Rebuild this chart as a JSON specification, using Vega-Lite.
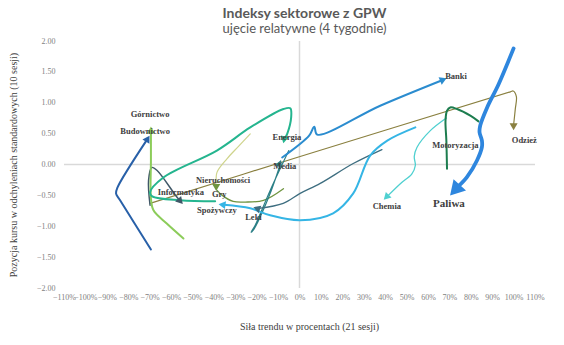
{
  "$schema": "https://vega.github.io/schema/vega-lite/v6.json",
  "width": 471,
  "height": 247,
  "autosize": "none",
  "padding": {"left": 64, "top": 41, "right": 29, "bottom": 57},
  "background": "white",
  "title": {
    "text": "Indeksy sektorowe z GPW",
    "subtitle": "ujęcie relatywne (4 tygodnie)",
    "font": "Lato", "fontSize": 14, "fontWeight": "bold", "color": "#595959",
    "subtitleFont": "Lato", "subtitleFontSize": 13, "subtitleColor": "#595959",
    "anchor": "middle", "offset": 1, "subtitlePadding": 2, "dx": 5
  },
  "config": {
    "view": {"stroke": null},
    "axis": {
      "grid": false, "domain": false, "ticks": false,
      "labelFont": "Liberation Serif", "labelFontSize": 8, "labelColor": "#7f7f7f",
      "titleFont": "Liberation Serif", "titleFontSize": 10, "titleColor": "#404040", "titleFontWeight": "normal"
    }
  },
  "datasets": {
    "zero": [
      {"x": 0, "y": -2, "y2": 2},
      {"x": -1.1, "x2": 1.1, "y": 0}
    ],
    "lines": [
      {"s": "Odzież", "o": 1, "x": -0.698, "y": -0.63},
      {"s": "Odzież", "o": 2, "x": 0.003, "y": 0.13},
      {"s": "Odzież", "o": 3, "x": 0.985, "y": 1.177},
      {"s": "Odzież", "o": 4, "x": 0.998, "y": 1.19},
      {"s": "Odzież", "o": 5, "x": 1.013, "y": 1.1},
      {"s": "Odzież", "o": 6, "x": 1.008, "y": 0.9},
      {"s": "Odzież", "o": 7, "x": 1.0, "y": 0.64},

      {"s": "Nieruchomości", "o": 1, "x": -0.23, "y": 0.495},
      {"s": "Nieruchomości", "o": 2, "x": -0.286, "y": 0.29},
      {"s": "Nieruchomości", "o": 3, "x": -0.339, "y": 0.092},
      {"s": "Nieruchomości", "o": 4, "x": -0.385, "y": -0.124},
      {"s": "Nieruchomości", "o": 5, "x": -0.389, "y": -0.29},

      {"s": "Gry", "o": 1, "x": -0.075, "y": -0.392},
      {"s": "Gry", "o": 2, "x": -0.168, "y": -0.581},
      {"s": "Gry", "o": 3, "x": -0.254, "y": -0.608},
      {"s": "Gry", "o": 4, "x": -0.31, "y": -0.597},
      {"s": "Gry", "o": 5, "x": -0.361, "y": -0.5},
      {"s": "Gry", "o": 6, "x": -0.385, "y": -0.419},

      {"s": "Chemia", "o": 1, "x": 0.686, "y": 0.753},
      {"s": "Chemia", "o": 2, "x": 0.611, "y": 0.548},
      {"s": "Chemia", "o": 3, "x": 0.549, "y": 0.279},
      {"s": "Chemia", "o": 4, "x": 0.536, "y": 0.129},
      {"s": "Chemia", "o": 5, "x": 0.541, "y": -0.016},
      {"s": "Chemia", "o": 6, "x": 0.525, "y": -0.15},
      {"s": "Chemia", "o": 7, "x": 0.471, "y": -0.311},
      {"s": "Chemia", "o": 8, "x": 0.41, "y": -0.516},

      {"s": "Media", "o": 1, "x": -0.05, "y": 0.226},
      {"s": "Media", "o": 2, "x": -0.137, "y": -0.419},
      {"s": "Media", "o": 3, "x": -0.207, "y": -0.984},
      {"s": "Media", "o": 4, "x": -0.226, "y": -1.097},
      {"s": "Media", "o": 5, "x": -0.216, "y": -1.065},
      {"s": "Media", "o": 6, "x": -0.146, "y": -0.548},
      {"s": "Media", "o": 7, "x": -0.09, "y": 0.0},

      {"s": "Leki", "o": 1, "x": 0.385, "y": 0.242},
      {"s": "Leki", "o": 2, "x": 0.251, "y": 0.016},
      {"s": "Leki", "o": 3, "x": 0.097, "y": -0.306},
      {"s": "Leki", "o": 4, "x": 0.003, "y": -0.468},
      {"s": "Leki", "o": 5, "x": -0.076, "y": -0.629},
      {"s": "Leki", "o": 6, "x": -0.19, "y": -0.71},

      {"s": "Informatyka", "o": 1, "x": -0.698, "y": -0.66},
      {"s": "Informatyka", "o": 2, "x": -0.705, "y": -0.258},
      {"s": "Informatyka", "o": 3, "x": -0.69, "y": -0.048},
      {"s": "Informatyka", "o": 4, "x": -0.665, "y": -0.097},
      {"s": "Informatyka", "o": 5, "x": -0.573, "y": -0.527},
      {"s": "Informatyka", "o": 6, "x": -0.556, "y": -0.59},

      {"s": "Górnictwo", "o": 1, "x": -0.542, "y": -1.198},
      {"s": "Górnictwo", "o": 2, "x": -0.62, "y": -0.956},
      {"s": "Górnictwo", "o": 3, "x": -0.682, "y": -0.742},
      {"s": "Górnictwo", "o": 4, "x": -0.694, "y": -0.548},
      {"s": "Górnictwo", "o": 5, "x": -0.694, "y": 0.065},
      {"s": "Górnictwo", "o": 6, "x": -0.694, "y": 0.56},

      {"s": "Budownictwo", "o": 1, "x": -0.694, "y": -1.376},
      {"s": "Budownictwo", "o": 2, "x": -0.838, "y": -0.58},
      {"s": "Budownictwo", "o": 3, "x": -0.857, "y": -0.468},
      {"s": "Budownictwo", "o": 4, "x": -0.85, "y": -0.371},
      {"s": "Budownictwo", "o": 5, "x": -0.709, "y": 0.419},

      {"s": "Spożywczy", "o": 1, "x": 0.541, "y": 0.602},
      {"s": "Spożywczy", "o": 2, "x": 0.41, "y": 0.387},
      {"s": "Spożywczy", "o": 3, "x": 0.33, "y": 0.145},
      {"s": "Spożywczy", "o": 4, "x": 0.251, "y": -0.468},
      {"s": "Spożywczy", "o": 5, "x": 0.157, "y": -0.79},
      {"s": "Spożywczy", "o": 6, "x": 0.003, "y": -0.903},
      {"s": "Spożywczy", "o": 7, "x": -0.137, "y": -0.823},
      {"s": "Spożywczy", "o": 8, "x": -0.23, "y": -0.71},
      {"s": "Spożywczy", "o": 9, "x": -0.352, "y": -0.653},

      {"s": "Energia", "o": 1, "x": -0.394, "y": -0.597},
      {"s": "Energia", "o": 2, "x": -0.557, "y": -0.58},
      {"s": "Energia", "o": 3, "x": -0.688, "y": -0.516},
      {"s": "Energia", "o": 4, "x": -0.698, "y": -0.452},
      {"s": "Energia", "o": 5, "x": -0.636, "y": -0.21},
      {"s": "Energia", "o": 6, "x": -0.386, "y": 0.226},
      {"s": "Energia", "o": 7, "x": -0.23, "y": 0.6},
      {"s": "Energia", "o": 8, "x": -0.075, "y": 0.898},
      {"s": "Energia", "o": 9, "x": -0.043, "y": 0.911},
      {"s": "Energia", "o": 10, "x": -0.039, "y": 0.763},
      {"s": "Energia", "o": 11, "x": -0.057, "y": 0.5},
      {"s": "Energia", "o": 12, "x": -0.07, "y": 0.41},

      {"s": "Banki", "o": 1, "x": -0.081, "y": 0.113},
      {"s": "Banki", "o": 2, "x": 0.045, "y": 0.468},
      {"s": "Banki", "o": 3, "x": 0.069, "y": 0.613},
      {"s": "Banki", "o": 4, "x": 0.083, "y": 0.484},
      {"s": "Banki", "o": 5, "x": 0.377, "y": 0.952},
      {"s": "Banki", "o": 6, "x": 0.672, "y": 1.373},

      {"s": "Motoryzacja", "o": 1, "x": 0.689, "y": -0.069},
      {"s": "Motoryzacja", "o": 2, "x": 0.686, "y": 0.387},
      {"s": "Motoryzacja", "o": 3, "x": 0.682, "y": 0.71},
      {"s": "Motoryzacja", "o": 4, "x": 0.689, "y": 0.871},
      {"s": "Motoryzacja", "o": 5, "x": 0.704, "y": 0.924},
      {"s": "Motoryzacja", "o": 6, "x": 0.736, "y": 0.898},
      {"s": "Motoryzacja", "o": 7, "x": 0.798, "y": 0.79},
      {"s": "Motoryzacja", "o": 8, "x": 0.836, "y": 0.698},

      {"s": "Paliwa", "o": 1, "x": 1.0, "y": 1.88},
      {"s": "Paliwa", "o": 2, "x": 0.93, "y": 1.3},
      {"s": "Paliwa", "o": 3, "x": 0.876, "y": 0.92},
      {"s": "Paliwa", "o": 4, "x": 0.844, "y": 0.63},
      {"s": "Paliwa", "o": 5, "x": 0.841, "y": 0.52},
      {"s": "Paliwa", "o": 6, "x": 0.852, "y": 0.39},
      {"s": "Paliwa", "o": 7, "x": 0.852, "y": 0.28},
      {"s": "Paliwa", "o": 8, "x": 0.829, "y": 0.065},
      {"s": "Paliwa", "o": 9, "x": 0.782, "y": -0.205},
      {"s": "Paliwa", "o": 10, "x": 0.74, "y": -0.36}
    ],
    "arrows": [
      {"s": "Odzież", "x": 1.0, "y": 0.613},
      {"s": "Gry", "x": -0.389, "y": -0.371},
      {"s": "Chemia", "x": 0.405, "y": -0.53},
      {"s": "Media", "x": -0.092, "y": 0.02},
      {"s": "Leki", "x": -0.2, "y": -0.71},
      {"s": "Informatyka", "x": -0.556, "y": -0.597},
      {"s": "Górnictwo", "x": -0.694, "y": 0.56},
      {"s": "Budownictwo", "x": -0.709, "y": 0.419},
      {"s": "Spożywczy", "x": -0.362, "y": -0.65},
      {"s": "Energia", "x": -0.072, "y": 0.4},
      {"s": "Banki", "x": 0.672, "y": 1.373},
      {"s": "Paliwa", "x": 0.726, "y": -0.416}
    ],
    "labels": [
      {"s": "Banki", "x": 0.731, "y": 1.435},
      {"s": "Odzież", "x": 1.05, "y": 0.403},
      {"s": "Motoryzacja", "x": 0.728, "y": 0.323},
      {"s": "Chemia", "x": 0.408, "y": -0.672},
      {"s": "Paliwa", "x": 0.698, "y": -0.645},
      {"s": "Energia", "x": -0.059, "y": 0.452},
      {"s": "Media", "x": -0.069, "y": -0.032},
      {"s": "Górnictwo", "x": -0.698, "y": 0.823},
      {"s": "Budownictwo", "x": -0.721, "y": 0.548},
      {"s": "Informatyka", "x": -0.554, "y": -0.447},
      {"s": "Nieruchomości", "x": -0.357, "y": -0.258},
      {"s": "Gry", "x": -0.375, "y": -0.484},
      {"s": "Spożywczy", "x": -0.386, "y": -0.731},
      {"s": "Leki", "x": -0.215, "y": -0.85}
    ]
  },
  "encoding": {
    "x": {
      "field": "x", "type": "quantitative",
      "scale": {"domain": [-1.1, 1.1], "nice": false, "zero": false},
      "axis": {
        "values": [-1.1, -1, -0.9, -0.8, -0.7, -0.6, -0.5, -0.4, -0.3, -0.2, -0.1, 0, 0.1, 0.2, 0.3, 0.4, 0.5, 0.6, 0.7, 0.8, 0.9, 1, 1.1],
        "format": ".0%", "labelPadding": 5, "titlePadding": 20, "labelFlush": false, "labelOverlap": false,
        "titleX": 245,
        "title": "Siła trendu w procentach (21 sesji)"
      }
    },
    "y": {
      "field": "y", "type": "quantitative",
      "scale": {"domain": [-2, 2], "nice": false, "zero": false},
      "axis": {
        "values": [-2, -1.5, -1, -0.5, 0, 0.5, 1, 1.5, 2],
        "format": ".2f", "labelPadding": 9, "titlePadding": 18, "labelFlush": false,
        "title": "Pozycja kursu w odchyleniach standardowych (10 sesji)"
      }
    }
  },
  "layer": [
    {
      "data": {"name": "zero"},
      "mark": {"type": "rule", "color": "#d9d9d9", "strokeWidth": 1.5},
      "encoding": {"x2": {"field": "x2"}, "y2": {"field": "y2"}}
    },
    {
      "data": {"name": "lines"},
      "mark": {"type": "line", "interpolate": "catmull-rom", "strokeCap": "round", "strokeJoin": "round"},
      "encoding": {
        "order": {"field": "o", "type": "quantitative"},
        "color": {
          "field": "s", "type": "nominal", "legend": null,
          "scale": {
            "domain": ["Odzież", "Nieruchomości", "Gry", "Chemia", "Media", "Leki", "Informatyka", "Górnictwo", "Budownictwo", "Spożywczy", "Energia", "Banki", "Motoryzacja", "Paliwa"],
            "range": ["#8a8040", "#cfd48c", "#6f9440", "#4fd0d0", "#2b7f86", "#3e6e80", "#405868", "#8ccc5a", "#2860a8", "#35b5e5", "#25b58f", "#2b8ccf", "#1d7d4f", "#2e86de"]
          }
        },
        "strokeWidth": {
          "field": "s", "type": "nominal", "legend": null,
          "scale": {
            "type": "ordinal",
            "domain": ["Odzież", "Nieruchomości", "Gry", "Chemia", "Media", "Leki", "Informatyka", "Górnictwo", "Budownictwo", "Spożywczy", "Energia", "Banki", "Motoryzacja", "Paliwa"],
            "range": [1.2, 1.2, 1.3, 1.3, 1.2, 1.3, 1.5, 2, 2, 2, 2, 2, 2, 3.8]
          }
        }
      }
    },
    {
      "data": {"name": "arrows"},
      "mark": {"type": "point", "shape": "triangle-up", "filled": true, "opacity": 1},
      "encoding": {
        "color": {"field": "s", "type": "nominal", "legend": null},
        "angle": {
          "field": "s", "type": "nominal", "legend": null,
          "scale": {
            "type": "ordinal",
            "domain": ["Odzież", "Gry", "Chemia", "Media", "Leki", "Informatyka", "Górnictwo", "Budownictwo", "Spożywczy", "Energia", "Banki", "Paliwa"],
            "range": [180, 180, 225, 20, 290, 138, 0, 31, 278, 192, 67, 222]
          }
        },
        "size": {"condition": {"test": "datum.s === 'Paliwa'", "value": 280}, "value": 65}
      }
    },
    {
      "data": {"name": "labels"},
      "mark": {"type": "text", "font": "Liberation Serif", "fontWeight": "bold", "color": "#404040", "align": "center", "baseline": "middle"},
      "encoding": {
        "text": {"field": "s"},
        "size": {"condition": {"test": "datum.s === 'Paliwa'", "value": 11}, "value": 8.5}
      }
    }
  ]
}
